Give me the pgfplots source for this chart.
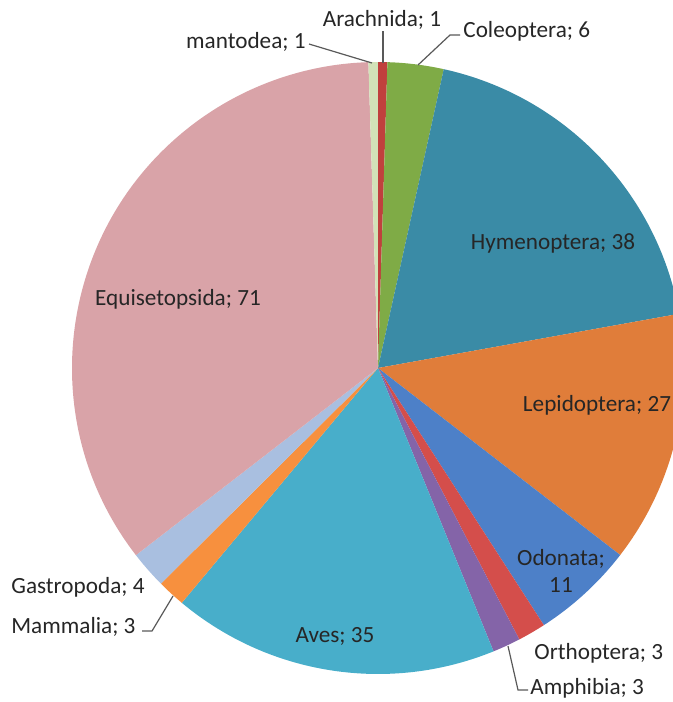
\documentclass[border=0pt]{standalone}
\usepackage{pgfplots}
\pgfplotsset{compat=1.18}
\usepackage{fontspec}
\setmainfont{Carlito}
\definecolor{cArach}{HTML}{C0403D}
\definecolor{cCole}{HTML}{7FAB46}
\definecolor{cHyme}{HTML}{3A8BA6}
\definecolor{cLepi}{HTML}{E07D3A}
\definecolor{cOdon}{HTML}{4D80C8}
\definecolor{cOrth}{HTML}{D44E4B}
\definecolor{cAmph}{HTML}{8464A8}
\definecolor{cAves}{HTML}{48AECA}
\definecolor{cMamm}{HTML}{F7903E}
\definecolor{cGast}{HTML}{A9BFE0}
\definecolor{cEqui}{HTML}{D9A3A8}
\definecolor{cMant}{HTML}{D2E2B8}
\definecolor{lead}{HTML}{595959}
\begin{document}
\begin{tikzpicture}
\begin{axis}[x=0.5pt,y=0.5pt,xmin=0,xmax=673,ymin=0,ymax=702,y dir=reverse,
  hide axis, clip=true, clip mode=global]
\addplot[draw=none] coordinates {(0,0) (673,702)};
\pgfplotsextra{%
  \xdef\startang{90}%
  \foreach \v/\c in {1/cArach,6/cCole,38/cHyme,27/cLepi,11/cOdon,3/cOrth,3/cAmph,35/cAves,3/cMamm,4/cGast,71/cEqui,1/cMant}{%
    \pgfmathsetmacro\endang{\startang-\v/203*360}%
    \fill[\c] (axis cs:378,368) -- ++(\startang:153pt) arc[start angle=\startang,end angle=\endang,radius=153pt] -- cycle;%
    \xdef\startang{\endang}%
  }%
  \begin{scope}[every node/.style={font=\fontsize{11.6}{13.5}\selectfont,text=black!85,inner sep=0pt}]
  \node[anchor=east] at (axis cs:306,42) {mantodea; 1};
  \draw[lead,line width=0.6pt] (axis cs:309,44) -- (axis cs:372,63);
  \node at (axis cs:382,20) {Arachnida; 1};
  \draw[lead,line width=0.6pt] (axis cs:383,31) -- (axis cs:383,63);
  \node[anchor=west] at (axis cs:463,31) {Coleoptera; 6};
  \draw[lead,line width=0.6pt] (axis cs:460,35) -- (axis cs:450,35) -- (axis cs:418,65);
  \node at (axis cs:553,243) {Hymenoptera; 38};
  \node at (axis cs:178,299) {Equisetopsida; 71};
  \node at (axis cs:597,405) {Lepidoptera; 27};
  \node[align=center] at (axis cs:561,571) {Odonata;\\11};
  \node[anchor=west] at (axis cs:534,653) {Orthoptera; 3};
  \node[anchor=west] at (axis cs:530,688) {Amphibia; 3};
  \draw[lead,line width=0.6pt] (axis cs:508,646) -- (axis cs:518,690) -- (axis cs:528,690);
  \node at (axis cs:335,636) {Aves; 35};
  \node[anchor=west] at (axis cs:11,587) {Gastropoda; 4};
  \node[anchor=west] at (axis cs:11,627) {Mammalia; 3};
  \draw[lead,line width=0.6pt] (axis cs:142,631) -- (axis cs:152,631) -- (axis cs:173,596);
  \end{scope}
}
\end{axis}
\end{tikzpicture}
\end{document}
